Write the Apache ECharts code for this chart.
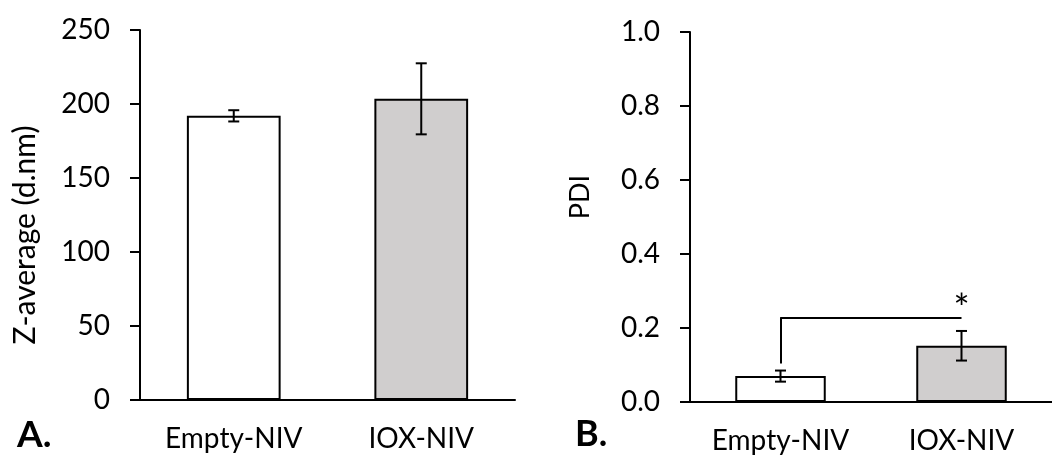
<!DOCTYPE html>
<html>
<head>
<meta charset="utf-8">
<script src="https://cdn.jsdelivr.net/npm/echarts@6/dist/echarts.min.js"></script>
<style>
  html, body { margin: 0; padding: 0; background: #fff; }
  #chart { width: 1052px; height: 458px; }
</style>
</head>
<body>
<div id="chart"></div>
<script>
// ---- Data ----
const categories = ['Empty-NIV', 'IOX-NIV'];
const zAverage = [192, 203.5];
const zAverageErr = [3.8, 24];
const pdi = [0.07, 0.152];
const pdiErr = [0.015, 0.04];
const barColors = ['#ffffff', '#d0cece'];
const zTickMax = 250, zTickStep = 50;
const pdiTickMax = 1.0, pdiTickStep = 0.2;
const bracketLow = 0.104, bracketHigh = 0.229, starLevel = 0.276;

const FONT = 'Lato';
const chart = echarts.init(document.getElementById('chart'), null, { renderer: 'canvas' });

function errData(vals, errs) {
  return vals.map((v, i) => [i, v - errs[i], v + errs[i]]);
}
function errRender(params, api) {
  const x = api.value(0);
  const lo = api.coord([x, api.value(1)]);
  const hi = api.coord([x, api.value(2)]);
  const hw = 5.5;
  const st = { stroke: '#000', lineWidth: 2 };
  return {
    type: 'group',
    children: [
      { type: 'line', shape: { x1: lo[0], y1: lo[1], x2: hi[0], y2: hi[1] }, style: st },
      { type: 'line', shape: { x1: lo[0] - hw, y1: lo[1], x2: lo[0] + hw, y2: lo[1] }, style: st },
      { type: 'line', shape: { x1: hi[0] - hw, y1: hi[1], x2: hi[0] + hw, y2: hi[1] }, style: st }
    ]
  };
}

const axisLineStyle = { show: true, lineStyle: { color: '#000', width: 2 } };
const labelStyle = { color: '#000', fontFamily: FONT, fontSize: 28 };

function xAxisCfg(gi) {
  return {
    type: 'category', gridIndex: gi, data: categories,
    axisLine: axisLineStyle, axisTick: { show: false },
    axisLabel: Object.assign({ margin: 25 }, labelStyle)
  };
}

const option = {
  backgroundColor: '#fff',
  animation: false,
  grid: [
    { left: 140, top: 30, width: 375, height: 370 },
    { left: 690, top: 32, width: 371, height: 370 }
  ],
  xAxis: [xAxisCfg(0), xAxisCfg(1)],
  yAxis: [
    {
      type: 'value', gridIndex: 0, min: 0, max: zTickMax, interval: zTickStep,
      axisLine: axisLineStyle,
      axisTick: { show: true, length: 10, lineStyle: { color: '#000', width: 2 } },
      splitLine: { show: false },
      axisLabel: Object.assign({ margin: 30 }, labelStyle)
    },
    {
      type: 'value', gridIndex: 1, min: 0, max: pdiTickMax, interval: pdiTickStep,
      axisLine: axisLineStyle,
      axisTick: { show: true, length: 10, lineStyle: { color: '#000', width: 2 } },
      splitLine: { show: false },
      axisLabel: Object.assign({ margin: 30, formatter: v => v.toFixed(1) }, labelStyle)
    }
  ],
  series: [
    {
      type: 'bar', xAxisIndex: 0, yAxisIndex: 0, barWidth: '50%',
      data: zAverage.map((v, i) => ({ value: v, itemStyle: { color: barColors[i] } })),
      itemStyle: { borderColor: '#000', borderWidth: 2 }
    },
    {
      type: 'custom', xAxisIndex: 0, yAxisIndex: 0,
      data: errData(zAverage, zAverageErr), renderItem: errRender, z: 5
    },
    {
      type: 'bar', xAxisIndex: 1, yAxisIndex: 1, barWidth: '50%',
      data: pdi.map((v, i) => ({ value: v, itemStyle: { color: barColors[i] } })),
      itemStyle: { borderColor: '#000', borderWidth: 2 },
      markLine: {
        silent: true, symbol: 'none', animation: false,
        lineStyle: { color: '#000', width: 2, type: 'solid' },
        label: { show: false },
        data: [
          [{ coord: [0, bracketLow] }, { coord: [0, bracketHigh] }],
          [{ coord: [0, bracketHigh] }, { coord: [1, bracketHigh] }]
        ]
      },
      markPoint: {
        silent: true, symbol: 'circle', symbolSize: 0,
        label: { show: true, formatter: '*', color: '#000', fontFamily: FONT, fontSize: 38, position: 'inside', offset: [0, 10] },
        data: [{ coord: [1, starLevel] }]
      }
    },
    {
      type: 'custom', xAxisIndex: 1, yAxisIndex: 1,
      data: errData(pdi, pdiErr), renderItem: errRender, z: 5
    }
  ],
  graphic: [
    { type: 'text', x: 25, y: 235, rotation: Math.PI / 2,
      style: { text: 'Z-average (d.nm)', fill: '#000', font: '30px ' + FONT, textAlign: 'center', textVerticalAlign: 'middle' } },
    { type: 'text', x: 580, y: 197, rotation: Math.PI / 2,
      style: { text: 'PDI', fill: '#000', font: '27px ' + FONT, textAlign: 'center', textVerticalAlign: 'middle' } },
    { type: 'text', x: 17, y: 435,
      style: { text: 'A.', fill: '#000', font: 'bold 37px ' + FONT, textAlign: 'left', textVerticalAlign: 'middle' } },
    { type: 'text', x: 575, y: 434,
      style: { text: 'B.', fill: '#000', font: 'bold 36px ' + FONT, textAlign: 'left', textVerticalAlign: 'middle' } }
  ]
};
chart.setOption(option);
</script>
</body>
</html>
